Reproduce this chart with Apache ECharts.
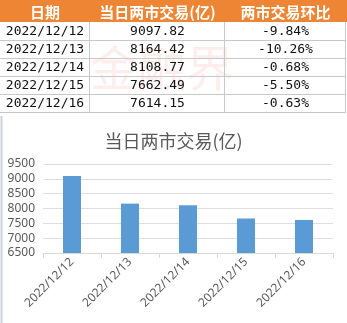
<!DOCTYPE html>
<html><head><meta charset="utf-8">
<script src="https://cdn.jsdelivr.net/npm/echarts@6/dist/echarts.min.js"></script>
<style>html,body{margin:0;padding:0;background:#fff}#c{width:347px;height:323px}</style>
</head><body><div id="c"></div>
<script>
const headers = ['日期', '当日两市交易(亿)', '两市交易环比'];
const dates = ['2022/12/12', '2022/12/13', '2022/12/14', '2022/12/15', '2022/12/16'];
const volumes = [9097.82, 8164.42, 8108.77, 7662.49, 7614.15];
const changes = ['-9.84%', '-10.26%', '-0.68%', '-5.50%', '-0.63%'];
const yTicks = [6500, 7000, 7500, 8000, 8500, 9000, 9500];
const chartTitle = '当日两市交易(亿)';

const colX = [0, 90, 225, 346];
const headerH = 22, rowH = 18;
const g = [];
g.push({type:'rect', shape:{x:0,y:0,width:347,height:headerH}, style:{fill:'#EE8535'}});
for (let c = 0; c < 3; c++) {
  g.push({type:'text', x:(colX[c]+colX[c+1])/2, y:headerH/2+1,
    style:{text:headers[c], fill:'#fff', font:'bold 15px "Noto Sans CJK SC"', align:'center', verticalAlign:'middle'}});
}
for (let r = 0; r < dates.length; r++) {
  const y0 = headerH + r*rowH;
  const cells = [dates[r], volumes[r].toFixed(2), changes[r]];
  for (let c = 0; c < 3; c++) {
    g.push({type:'text', x:(colX[c]+colX[c+1])/2, y:y0+rowH/2+1,
      style:{text:cells[c], fill:'#111', font:'13px "DejaVu Sans Mono"', align:'center', verticalAlign:'middle'}});
  }
  g.push({type:'line', shape:{x1:0,y1:y0+rowH+0.5,x2:346,y2:y0+rowH+0.5}, style:{stroke:'#C8C8C8', lineWidth:1}});
}
const tableBottom = headerH + dates.length*rowH;
for (let c = 1; c < 4; c++) {
  g.push({type:'line', shape:{x1:colX[c]-0.5,y1:headerH,x2:colX[c]-0.5,y2:tableBottom}, style:{stroke:'#C8C8C8', lineWidth:1}});
}
g.push({type:'text', x:162, y:68, z:-1, style:{text:'金融界', fill:'rgba(235,110,110,0.12)', font:'48px "Noto Sans CJK SC"', align:'center', verticalAlign:'middle'}});
g.push({type:'line', shape:{x1:1.5,y1:tableBottom+4,x2:1.5,y2:323}, style:{stroke:'#CDD2DA', lineWidth:2}});

const chart = echarts.init(document.getElementById('c'));
chart.setOption({
  animation:false,
  title:{text:chartTitle, left:'center', top:127, textStyle:{color:'#595959', fontSize:18, fontWeight:'normal', fontFamily:'Noto Sans CJK SC'}},
  grid:{left:43, right:14, top:164, bottom:70},
  xAxis:{type:'category', data:dates,
    axisLine:{lineStyle:{color:'#D9D9D9'}},
    axisTick:{show:true, length:5, lineStyle:{color:'#D9D9D9'}},
    axisLabel:{rotate:45, color:'#595959', fontSize:12, fontFamily:'Noto Sans', margin:7}},
  yAxis:{type:'value', min:yTicks[0], max:yTicks[yTicks.length-1], interval:500,
    axisLine:{show:false}, axisTick:{show:false},
    axisLabel:{color:'#595959', fontSize:12, fontFamily:'Noto Sans', margin:8, formatter:v => String(v)}},
  series:[{type:'bar', data:volumes, barWidth:18, itemStyle:{color:'#5B9BD5'}}],
  graphic:g
});
</script></body></html>
